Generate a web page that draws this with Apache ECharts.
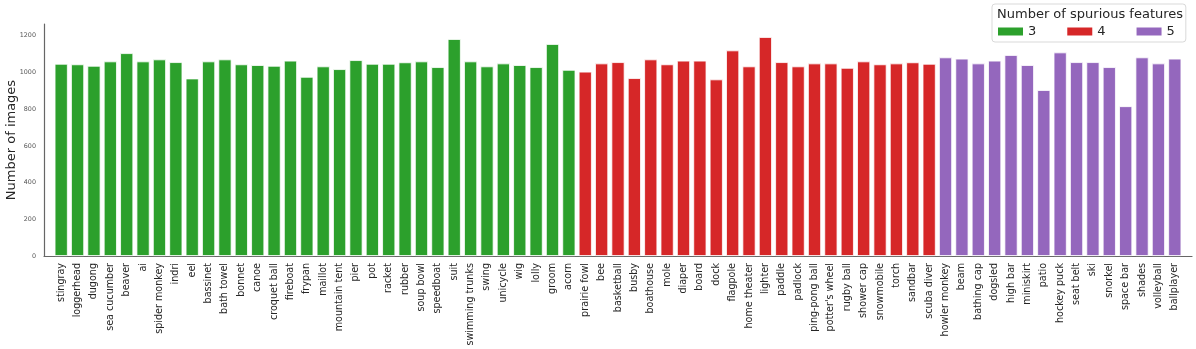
<!DOCTYPE html>
<html>
<head>
<meta charset="utf-8">
<script src="https://cdn.jsdelivr.net/npm/echarts@6/dist/echarts.min.js"></script>
<style>
  html, body { margin: 0; padding: 0; background: #fff; }
  #chart { width: 1196px; height: 349px; }
</style>
</head>
<body>
<div id="chart"></div>
<script>
// classes grouped by number of spurious features
const names3 = ['stingray', 'loggerhead', 'dugong', 'sea cucumber', 'beaver', 'ai', 'spider monkey', 'indri',
    'eel', 'bassinet', 'bath towel', 'bonnet', 'canoe', 'croquet ball', 'fireboat', 'frypan', 'maillot',
    'mountain tent', 'pier', 'pot', 'racket', 'rubber', 'soup bowl', 'speedboat', 'suit', 'swimming trunks',
    'swing', 'unicycle', 'wig', 'lolly', 'groom', 'acorn'];
const counts3 = [1047, 1044, 1036, 1060, 1105, 1060, 1071, 1056, 967, 1060, 1071, 1044, 1040, 1036, 1064, 976, 1033,
    1018, 1067, 1047, 1047, 1055, 1060, 1029, 1182, 1060, 1033, 1049, 1040, 1029, 1155, 1014];

const names4 = ['prairie fowl', 'bee', 'basketball', 'busby', 'boathouse', 'mole', 'diaper', 'board', 'dock',
    'flagpole', 'home theater', 'lighter', 'paddle', 'padlock', 'ping-pong ball', "potter's wheel", 'rugby ball',
    'shower cap', 'snowmobile', 'torch', 'sandbar', 'scuba diver'];
const counts4 = [1004, 1049, 1056, 969, 1071, 1044, 1064, 1064, 962, 1120, 1033, 1193, 1056, 1033, 1049, 1049, 1025,
    1060, 1044, 1049, 1055, 1047];

const names5 = ['howler monkey', 'beam', 'bathing cap', 'dogsled', 'high bar', 'miniskirt', 'patio', 'hockey puck',
    'seat belt', 'ski', 'snorkel', 'space bar', 'shades', 'volleyball', 'ballplayer'];
const counts5 = [1082, 1075, 1049, 1064, 1095, 1040, 904, 1109, 1056, 1056, 1029, 816, 1082, 1049, 1075];

const groupLabels = ['3', '4', '5'];
const groupColors = ['#2ca02c', '#d62728', '#9467bd'];
const yTicks = [0, 200, 400, 600, 800, 1000, 1200];

const categories = names3.concat(names4, names5);

//把每组数据转成 [序号, 数量]
function toPoints(counts, start) {
    return counts.map((v, i) => [start + i, v]);
}

const groups = [
    toPoints(counts3, 0),
    toPoints(counts4, names3.length),
    toPoints(counts5, names3.length + names4.length)
];

const font = 'DejaVu Sans';

const option = {
    animation: false,
    backgroundColor: '#fff',
    textStyle: { fontFamily: font },
    title: {
        text: 'Number of spurious features',
        left: 997,
        top: 8,
        padding: 0,
        textStyle: { fontFamily: font, fontSize: 13, fontWeight: 'normal', color: '#262626' }
    },
    legend: {
        data: groupLabels,
        left: 992,
        top: 4,
        padding: [21, 11, 4, 6],
        itemWidth: 25,
        itemHeight: 8,
        itemGap: 31,
        icon: 'rect',
        borderColor: '#d9d9d9',
        borderWidth: 1,
        borderRadius: 3,
        backgroundColor: 'rgba(255,255,255,0.85)',
        itemStyle: { borderWidth: 0 },
        textStyle: { fontFamily: font, fontSize: 13, color: '#262626' }
    },
    grid: { left: 44, right: 4, top: 24, bottom: 93, containLabel: false, outerBoundsMode: 'none' },
    xAxis: {
        type: 'value',
        min: -1.05,
        max: categories.length + 0.05,
        splitLine: { show: false },
        axisTick: { show: false },
        axisLine: { show: true, onZero: false, lineStyle: { color: '#666', width: 1.2 } },
        axisLabel: {
            customValues: categories.map((c, i) => i),
            formatter: v => categories[v] || '',
            rotate: 90,
            margin: 7,
            fontFamily: font,
            fontSize: 9.6,
            color: '#262626'
        }
    },
    yAxis: {
        type: 'value',
        min: 0,
        max: 1264,
        name: 'Number of images',
        nameLocation: 'middle',
        nameGap: 26,
        nameMoveOverlap: false,
        nameTextStyle: { fontFamily: font, fontSize: 13, color: '#262626' },
        splitLine: { show: false },
        axisTick: { show: false },
        axisLine: { show: true, onZero: false, lineStyle: { color: '#666', width: 1.2 } },
        axisLabel: {
            customValues: yTicks,
            formatter: v => String(v),
            margin: 8,
            fontFamily: font,
            fontSize: 6.4,
            color: '#555'
        }
    },
    series: groups.map((pts, k) => ({
        type: 'bar',
        name: groupLabels[k],
        data: pts,
        barWidth: '80%',
        barGap: '-100%',
        itemStyle: { color: groupColors[k], borderColor: '#fff', borderWidth: 0.8 }
    }))
};

const chart = echarts.init(document.getElementById('chart'), null, { renderer: 'canvas' });
chart.setOption(option);
</script>
</body>
</html>
